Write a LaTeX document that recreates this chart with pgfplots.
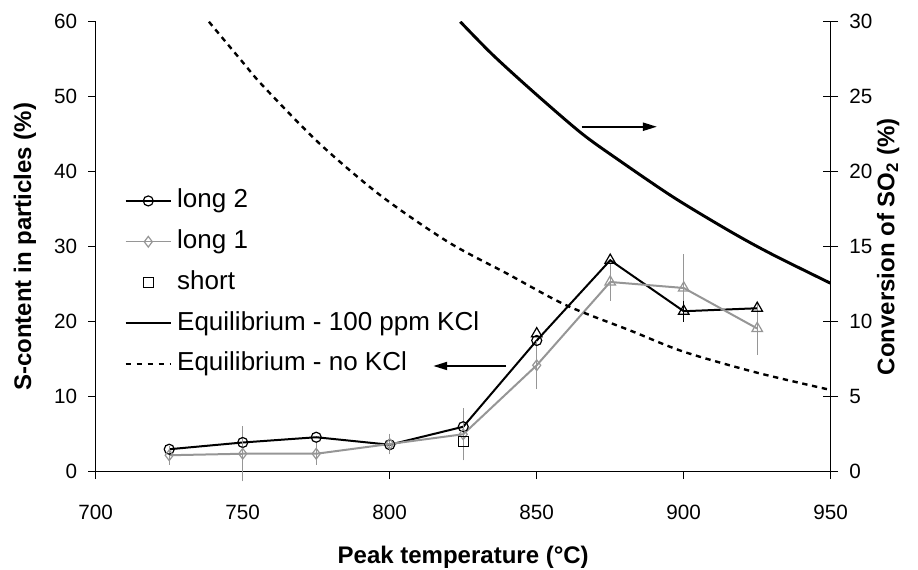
\documentclass[border=0pt]{standalone}
\usepackage{pgfplots}
\pgfplotsset{compat=1.18}
\usepackage{fontspec}
\setmainfont{Liberation Sans}
\usetikzlibrary{arrows.meta}
\definecolor{mygray}{RGB}{150,150,150}

\begin{document}
\begin{tikzpicture}
\begin{axis}[
  scale only axis, width=551.25pt, height=337.5pt,
  xmin=700, xmax=950, ymin=0, ymax=60,
  axis x line*=bottom, axis y line*=left,
  xtick={700,750,...,950}, ytick={0,10,...,60},
  tick align=outside, major tick length=5.5pt, minor tick num=0,
  tick style={black, line width=0.75pt},
  axis line style={line width=0.75pt, -},
  /pgf/number format/assume math mode=true,
  ticklabel style={font=\fontsize{15.5}{18}\selectfont},
  xticklabel style={anchor=center, yshift=-25pt},
  yticklabel style={anchor=east, xshift=-5pt},
  xlabel={Peak temperature (°C)},
  ylabel={S-content in particles (\%)},
  label style={font=\fontsize{18}{21}\selectfont\bfseries},
  xlabel style={at={(axis description cs:0.5,-0.19)}, anchor=center},
  ylabel style={at={(axis description cs:-0.0962,0.5)}, anchor=center},
  clip=false,
  legend style={draw=none, fill=none, at={(0.039,0.632)}, anchor=north west,
    font=\fontsize{19.5}{22}\selectfont, inner sep=0pt, row sep=10.6pt, column sep=3pt,
    nodes={inner sep=1pt, text height=14pt, text depth=4pt}},
  legend cell align=left,
  legend image code/.code={\draw[mark repeat=2,mark phase=2,#1] plot coordinates {(0pt,0pt) (17pt,0pt) (34pt,0pt)};},
]
% long 2
\addplot[black, line width=1.5pt, mark=o, mark indices={1,2,3,4,5,6},
  mark options={solid, black, line width=0.9pt, mark size=3.75pt},
  legend image post style={line width=1pt, mark size=2pt, mark indices={2}}]
  coordinates {(725,3.0) (750,3.9) (775,4.6) (800,3.6) (825,6.0) (850,17.5) (875,28.2) (900,21.4) (925,21.8)};
\addlegendentry{long 2}
% long 1
\addplot[mygray, line width=1.5pt, mark=diamond, mark indices={1,2,3,4,5,6},
  mark options={solid, mygray, line width=0.9pt, mark size=4pt},
  legend image post style={line width=1pt, mark size=2.4pt, mark indices={2}},
  error bars/.cd, y dir=both, y explicit,
  error bar style={mygray, line width=0.75pt},
  error mark options={mygray, line width=0.75pt, mark size=2.8pt}]
  coordinates {(725,2.2) +- (0,0.8) (750,2.4) +- (0,3.2) (775,2.4) +- (0,1.0) (800,3.7) +- (0,0.9)
    (825,5.0) +- (0,3.0) (850,14.2) +- (0,2.7) (875,25.3) +- (0,2.0) (900,24.5) +- (0,4.0) (925,19.1) +- (0,3.0)};
\addlegendentry{long 1}
% short
\addplot[only marks, black, mark=square, mark options={line width=0.9pt, mark size=3.75pt},
  legend image post style={mark size=2.3pt, line width=0.8pt}]
  coordinates {(825,4.0)};
\addlegendentry{short}
% triangles (same runs, later points)
\addplot[forget plot, only marks, black, mark=triangle, mark options={line width=0.9pt, mark size=4.6pt}]
  coordinates {(850,18.4) (875,28.2) (900,21.4) (925,21.8)};
\addplot[forget plot, only marks, mygray, mark=triangle, mark options={line width=0.9pt, mark size=4.6pt}]
  coordinates {(875,25.3) (900,24.5) (925,19.1)};
\addplot[forget plot, draw=none, mark=none, black,
  error bars/.cd, y dir=both, y explicit,
  error bar style={black, line width=0.75pt},
  error mark options={black, line width=0.75pt, mark size=2.8pt}]
  coordinates {(900,21.4) +- (0,0.9)};
\addlegendimage{black, line width=1.4pt}
\addlegendentry{Equilibrium - 100 ppm KCl}
\addlegendimage{black, line width=1.4pt, dash pattern=on 3.75pt off 4.5pt}
\addlegendentry{Equilibrium - no KCl}
% arrows
\draw[line width=1.5pt, -{Triangle[length=10.5pt, width=6pt]}] (axis cs:865.3,46.0) -- (axis cs:890.9,46.0);
\draw[line width=1.5pt, -{Triangle[length=10.5pt, width=6pt]}] (axis cs:839.6,14.1) -- (axis cs:814.8,14.1);
\end{axis}
\begin{axis}[
  scale only axis, width=551.25pt, height=337.5pt,
  xmin=700, xmax=950, ymin=0, ymax=30,
  axis x line=none, axis y line*=right,
  ytick={0,5,...,30},
  tick align=center, major tick length=11pt,
  tick style={black, line width=0.75pt},
  axis line style={line width=0.75pt, -},
  /pgf/number format/assume math mode=true,
  ticklabel style={font=\fontsize{15.5}{18}\selectfont},
  yticklabel style={anchor=west, xshift=5pt},
  ylabel={Conversion of SO\textsubscript{2} (\%)},
  label style={font=\fontsize{18}{21}\selectfont\bfseries},
  ylabel style={at={(axis description cs:1.078,0.5)}, anchor=center},
]
\addplot[black, line width=2.2pt, smooth] coordinates {
  (824,30.0) (835,27.8) (849,25.3) (865,22.6) (877,20.9) (896.5,18.3) (916,16.0) (930,14.5) (950,12.56)};
\addplot[black, line width=1.8pt, smooth, dash pattern=on 4pt off 3.5pt] coordinates {
  (738.5,30.0) (750,27.3) (757,25.7) (776,21.9) (797,18.4) (820,15.3) (840,13.2) (860,11.1) (882,9.4) (900,8.0) (925,6.6) (950,5.45)};
\end{axis}
\pgfresetboundingbox
\path[use as bounding box] (-71.8pt,-73pt) rectangle (616.7pt,353.8pt);
\end{tikzpicture}
\end{document}
